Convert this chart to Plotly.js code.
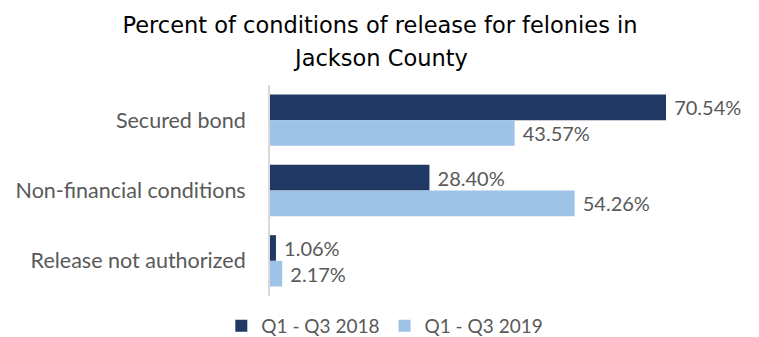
<!DOCTYPE html>
<html><head><meta charset="utf-8">
<script src="https://cdn.plot.ly/plotly-3.0.1.min.js"></script>
<style>html,body{margin:0;padding:0;background:#fff}#chart{width:759px;height:337px}</style>
</head><body><div id="chart"></div>
<script>
const categories = ["Secured bond", "Non-financial conditions", "Release not authorized"];
const seriesNames = ["Q1 - Q3 2018", "Q1 - Q3 2019"];
const values2018 = [70.54, 28.40, 1.06];
const values2019 = [43.57, 54.26, 2.17];
const labels2018 = ["70.54%", "28.40%", "1.06%"];
const labels2019 = ["43.57%", "54.26%", "2.17%"];
const titleLines = ["Percent of conditions of release for felonies in", "Jackson County"];

const pad = "\u00a0";
const fam = "Lato, 'Open Sans', sans-serif";
const dataFont = {family: fam, size: 20, color: "#595959"};
const catFont = {family: fam, size: 21.5, color: "#595959"};
const legFont = {family: fam, size: 19, color: "#595959"};
const titleFont = {family: "'DejaVu Sans', sans-serif", size: 22.5, color: "#000"};
const traces = [
  {type: "bar", orientation: "h", name: seriesNames[0], y: categories, x: values2018,
   text: labels2018.map(s => pad + s), textposition: "outside", cliponaxis: false,
   textfont: dataFont, marker: {color: "#203864"}, hoverinfo: "none"},
  {type: "bar", orientation: "h", name: seriesNames[1], y: categories, x: values2019,
   text: labels2019.map(s => pad + s), textposition: "outside", cliponaxis: false,
   textfont: dataFont, marker: {color: "#9DC3E6"}, hoverinfo: "none"}
];
const layout = {
  width: 759, height: 337,
  margin: {l: 270, r: 19, t: 85, b: 41, autoexpand: false},
  paper_bgcolor: "#fff", plot_bgcolor: "#fff",
  title: {text: titleLines[0], font: titleFont, automargin: false,
          xref: "container", x: 380 / 759, xanchor: "center",
          yref: "container", y: 1 - 25 / 337, yanchor: "middle"},
  annotations: [{text: titleLines[1], font: titleFont, showarrow: false,
                 xref: "paper", yref: "paper", x: (380 - 270) / 470, y: 1 + (85 - 58) / 211,
                 xanchor: "center", yanchor: "middle"}],
  barmode: "group", bargap: 0.27, bargroupgap: 0,
  xaxis: {range: [0, 83.72], visible: false, fixedrange: true},
  yaxis: {autorange: "reversed", showline: true, linecolor: "#d9d9d9", linewidth: 2,
          ticks: "", ticklabelstandoff: 18, tickfont: catFont, showgrid: false},
  showlegend: true,
  legend: {orientation: "h", xref: "container", yref: "container", x: 0.507, xanchor: "center",
           y: 1 - 326 / 337, yanchor: "middle",
           font: legFont, traceorder: "normal"},
  font: dataFont
};
Plotly.newPlot("chart", traces, layout, {displayModeBar: false, staticPlot: true});
</script></body></html>
